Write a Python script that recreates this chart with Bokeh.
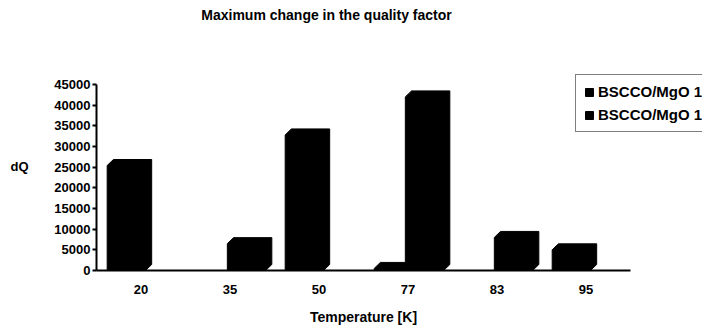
from bokeh.plotting import figure
from bokeh.models import (Range1d, FixedTicker, Legend, LegendItem, Label, ColumnDataSource)
from bokeh.embed import file_html
from bokeh.resources import INLINE

# ---- data ----
categories = ["20", "35", "50", "77", "83", "95"]
series_names = ["BSCCO/MgO 1", "BSCCO/MgO 1"]
series1 = [25400, 0, 32800, 500, 0, 5000]
series2 = [0, 6500, 0, 42000, 8000, 0]
y_ticks = [0, 5000, 10000, 15000, 20000, 25000, 30000, 35000, 40000, 45000]
y_max = 45000
title_text = "Maximum change in the quality factor"
x_title = "Temperature [K]"
y_title = "dQ"

FONT = "Liberation Sans"
W, H = 702, 327
# frame geometry (pixels) of the plotting area in the reference
left_px, bottom_px, top_px = 96, 270, 84
px_per_cat = 89.0
px_per_val = (bottom_px - top_px) / y_max

n = len(categories)
x_start = -left_px / px_per_cat
x_end = (W - left_px) / px_per_cat
y_start = -(H - bottom_px) / px_per_val
y_end = y_max + top_px / px_per_val

p = figure(width=W, height=H, output_backend="svg", toolbar_location=None,
           x_range=Range1d(x_start, x_end), y_range=Range1d(y_start, y_end),
           min_border=0)
p.outline_line_color = None
p.grid.visible = False
p.background_fill_color = "white"
p.border_fill_color = "white"

# 3D-ish bars built from data
front_w = 0.43
depth_x = 0.07
depth_y = 6 / px_per_val
offsets = [0.12, 0.47]

renderers = []
for vals, off in zip([series1, series2], offsets):
    xs, ys = [], []
    for i, v in enumerate(vals):
        if v <= 0:
            continue
        x0 = i + off
        x1 = x0 + front_w
        xs.append([x0, x0, x0 + depth_x, x1 + depth_x, x1 + depth_x, x1])
        ys.append([0, v, v + depth_y, v + depth_y, depth_y, 0])
    src = ColumnDataSource(dict(xs=xs, ys=ys))
    r = p.patches("xs", "ys", source=src, fill_color="black", line_color="black")
    renderers.append(r)

# axes, pinned at the data origin
xa = p.xaxis[0]
xa.fixed_location = 0
xa.bounds = (0, n)
xa.ticker = FixedTicker(ticks=[i + 0.5 for i in range(n)])
xa.major_label_overrides = {i + 0.5: c for i, c in enumerate(categories)}
xa.major_tick_line_color = None
xa.minor_tick_line_color = None
xa.major_label_standoff = 8
xa.axis_line_width = 2
xa.axis_line_color = "black"
xa.major_label_text_font = FONT
xa.major_label_text_font_style = "bold"
xa.major_label_text_font_size = "13px"
xa.major_label_text_color = "black"
xa.axis_label = x_title
xa.axis_label_text_font = FONT
xa.axis_label_text_font_style = "bold"
xa.axis_label_text_font_size = "14px"
xa.axis_label_text_color = "black"
xa.axis_label_standoff = 12

ya = p.yaxis[0]
ya.fixed_location = 0
ya.bounds = (0, y_max)
ya.ticker = FixedTicker(ticks=y_ticks)
ya.minor_tick_line_color = None
ya.major_tick_out = 4
ya.major_tick_in = 0
ya.major_tick_line_width = 2
ya.axis_line_width = 2
ya.axis_line_color = "black"
ya.major_label_standoff = 2
ya.major_label_text_font = FONT
ya.major_label_text_font_style = "bold"
ya.major_label_text_font_size = "13px"
ya.major_label_text_color = "black"

# y title and chart title
p.add_layout(Label(x=(19 - left_px) / px_per_cat, y=(bottom_px - 166) / px_per_val,
                   text=y_title, text_align="center", text_baseline="middle",
                   text_font=FONT, text_font_style="bold", text_font_size="13px",
                   text_color="black"))
p.add_layout(Label(x=(326 - left_px) / px_per_cat, y=(bottom_px - 14) / px_per_val,
                   text=title_text, text_align="center", text_baseline="middle",
                   text_font=FONT, text_font_style="bold", text_font_size="14px",
                   text_color="black"))

legend = Legend(items=[LegendItem(label=series_names[0], renderers=[renderers[0]]),
                       LegendItem(label=series_names[1], renderers=[renderers[1]])],
                location=(575, H - 132), orientation="vertical")
legend.border_line_color = "black"
legend.border_line_width = 1.5
legend.background_fill_alpha = 1
legend.label_text_font = FONT
legend.label_text_font_style = "bold"
legend.label_text_font_size = "15px"
legend.label_text_color = "black"
legend.glyph_width = 10
legend.glyph_height = 10
legend.label_standoff = 4
legend.padding = 8
legend.spacing = 6
legend.margin = 0
legend.label_height = 15
p.add_layout(legend)

open("out.html", "w").write(file_html(p, INLINE))
